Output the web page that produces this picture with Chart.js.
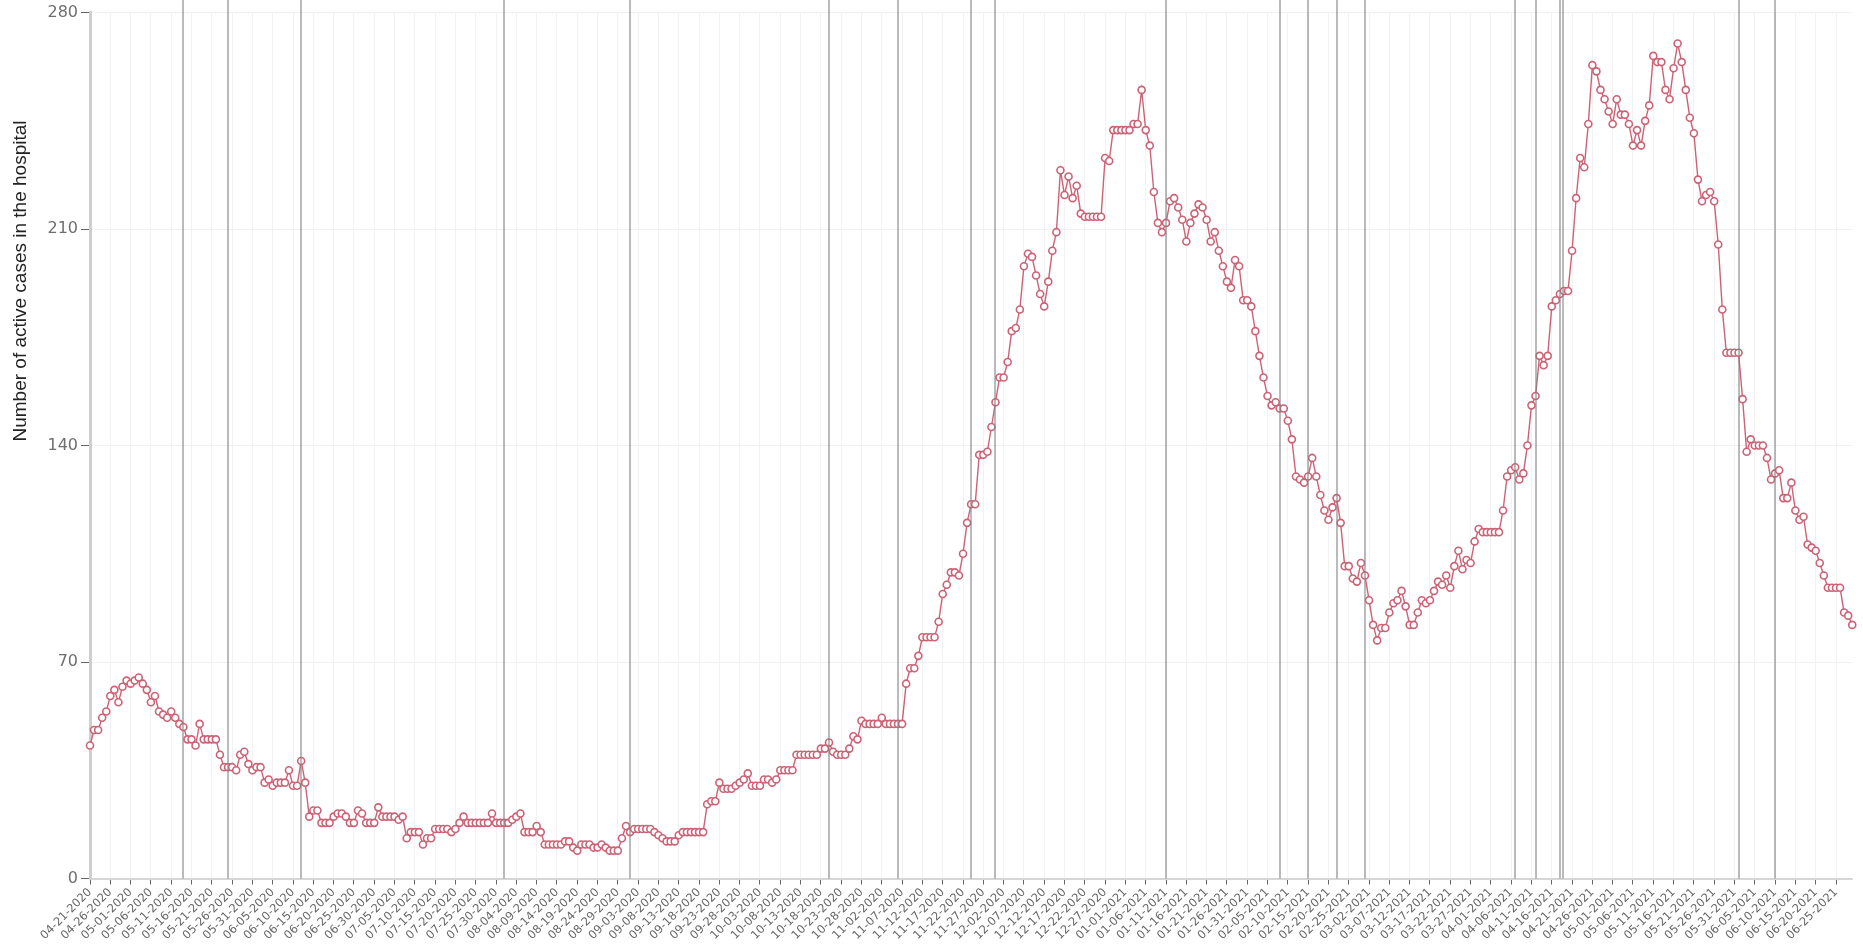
<!DOCTYPE html>
<html>
<head>
<meta charset="utf-8">
<title>Active cases in the hospital</title>
<script src="https://cdn.jsdelivr.net/npm/chart.js@4.4.1/dist/chart.umd.min.js"></script>
<style>
	html, body { margin: 0; padding: 0; background: #fff; }
	#chart { display: block; }
</style>
</head>
<body>
<canvas id="chart" width="1863" height="947"></canvas>
<script>
( function() { 'use strict';

	// first day of the series, one value per day after it
	let startDay = [ 2020, 4, 21 ];

	// active cases in the hospital
	let cases = [
		43, 48, 48, 52, 54, 59, 61, 57, 62, 64, 63, 64, 65, 63, 61, 57, 59, 54, 53, 52,
		54, 52, 50, 49, 45, 45, 43, 50, 45, 45, 45, 45, 40, 36, 36, 36, 35, 40, 41, 37,
		35, 36, 36, 31, 32, 30, 31, 31, 31, 35, 30, 30, 38, 31, 20, 22, 22, 18, 18, 18,
		20, 21, 21, 20, 18, 18, 22, 21, 18, 18, 18, 23, 20, 20, 20, 20, 19, 20, 13, 15,
		15, 15, 11, 13, 13, 16, 16, 16, 16, 15, 16, 18, 20, 18, 18, 18, 18, 18, 18, 21,
		18, 18, 18, 18, 19, 20, 21, 15, 15, 15, 17, 15, 11, 11, 11, 11, 11, 12, 12, 10,
		9, 11, 11, 11, 10, 10, 11, 10, 9, 9, 9, 13, 17, 15, 16, 16, 16, 16, 16, 15,
		14, 13, 12, 12, 12, 14, 15, 15, 15, 15, 15, 15, 24, 25, 25, 31, 29, 29, 29, 30,
		31, 32, 34, 30, 30, 30, 32, 32, 31, 32, 35, 35, 35, 35, 40, 40, 40, 40, 40, 40,
		42, 42, 44, 41, 40, 40, 40, 42, 46, 45, 51, 50, 50, 50, 50, 52, 50, 50, 50, 50,
		50, 63, 68, 68, 72, 78, 78, 78, 78, 83, 92, 95, 99, 99, 98, 105, 115, 121, 121, 137,
		137, 138, 146, 154, 162, 162, 167, 177, 178, 184, 198, 202, 201, 195, 189, 185, 193, 203, 209, 229,
		221, 227, 220, 224, 215, 214, 214, 214, 214, 214, 233, 232, 242, 242, 242, 242, 242, 244, 244, 255,
		242, 237, 222, 212, 209, 212, 219, 220, 217, 213, 206, 212, 215, 218, 217, 213, 206, 209, 203, 198,
		193, 191, 200, 198, 187, 187, 185, 177, 169, 162, 156, 153, 154, 152, 152, 148, 142, 130, 129, 128,
		130, 136, 130, 124, 119, 116, 120, 123, 115, 101, 101, 97, 96, 102, 98, 90, 82, 77, 81, 81,
		86, 89, 90, 93, 88, 82, 82, 86, 90, 89, 90, 93, 96, 95, 98, 94, 101, 106, 100, 103,
		102, 109, 113, 112, 112, 112, 112, 112, 119, 130, 132, 133, 129, 131, 140, 153, 156, 169, 166, 169,
		185, 187, 189, 190, 190, 203, 220, 233, 230, 244, 263, 261, 255, 252, 248, 244, 252, 247, 247, 244,
		237, 242, 237, 245, 250, 266, 264, 264, 255, 252, 262, 270, 264, 255, 246, 241, 226, 219, 221, 222,
		219, 205, 184, 170, 170, 170, 170, 155, 138, 142, 140, 140, 140, 136, 129, 131, 132, 123, 123, 128,
		119, 116, 117, 108, 107, 106, 102, 98, 94, 94, 94, 94, 86, 85, 82
	];

	// day numbers (from the first day) that carry a grey vertical marker
	let markerDays = [ 23, 34, 52, 102, 133, 182, 199, 217, 223, 265, 293, 300, 307, 314, 351, 356, 362, 362.7, 406, 415 ];

	// y axis
	let yTicks = [ 0, 70, 140, 210, 280 ];
	let yTitle = 'Number of active cases in the hospital';

	let labelEvery = 5;

	/**
	 * Build the MM-DD-YYYY label of every day
	 */
	function buildDates( count ) {
		let out = [];
		let d = new Date( startDay[0], startDay[1] - 1, startDay[2] );
		for ( let i = 0; i < count; i++ ) {
			let mm = String( d.getMonth() + 1 ).padStart( 2, '0' );
			let dd = String( d.getDate() ).padStart( 2, '0' );
			out.push( mm + '-' + dd + '-' + d.getFullYear() );
			d.setDate( d.getDate() + 1 );
		}
		return out;
	}

	let dates = buildDates( cases.length );

	/**
	 * Grey vertical markers, drawn over the line like in the original
	 */
	let markerPlugin = {
		id: 'markers',
		afterDatasetsDraw: function( chart ) {
			let ctx = chart.ctx;
			let x = chart.scales.x;
			let area = chart.chartArea;
			ctx.save();
			ctx.strokeStyle = 'rgba(130, 130, 130, 0.55)';
			ctx.lineWidth = 2;
			markerDays.forEach( function( day ) {
				let px = Math.round( x.getPixelForValue( day ) );
				ctx.beginPath();
				ctx.moveTo( px, 0 );
				ctx.lineTo( px, area.bottom );
				ctx.stroke();
			} );
			ctx.restore();
		}
	};

	/**
	 * Y axis title, sits high on the axis
	 */
	let titlePlugin = {
		id: 'yTitle',
		afterDraw: function( chart ) {
			let ctx = chart.ctx;
			ctx.save();
			ctx.translate( 21, 281 );
			ctx.rotate( -Math.PI / 2 );
			ctx.font = '19px "Liberation Sans", Arial, sans-serif';
			ctx.fillStyle = '#222';
			ctx.textAlign = 'center';
			ctx.textBaseline = 'middle';
			ctx.fillText( yTitle, 0, 0 );
			ctx.restore();
		}
	};

	new Chart( document.getElementById( 'chart' ), {
		type: 'line',
		data: {
			labels: dates,
			datasets: [ {
				data: cases,
				borderColor: 'rgb(204, 98, 117)',
				borderWidth: 1.4,
				pointRadius: 3.5,
				pointBorderWidth: 1.6,
				pointBackgroundColor: '#fff',
				pointBorderColor: 'rgb(204, 98, 117)',
				tension: 0
			} ]
		},
		options: {
			responsive: false,
			animation: false,
			layout: { padding: { top: 11, right: 7, left: 0, bottom: 0 } },
			plugins: {
				legend: { display: false },
				tooltip: { enabled: false }
			},
			scales: {
				x: {
					type: 'category',
					border: { display: true, color: '#d6d6d6', width: 2 },
					grid: {
						color: function( c ) { return c.index % labelEvery === 0 ? '#f2f2f2' : 'rgba(0,0,0,0)'; },
						tickColor: function( c ) { return c.index % labelEvery === 0 ? '#666' : 'rgba(0,0,0,0)'; },
						tickLength: 6
					},
					ticks: {
						autoSkip: false,
						minRotation: 45,
						maxRotation: 45,
						padding: 1,
						color: '#666',
						font: { family: '"DejaVu Sans", sans-serif', size: 11.5 },
						callback: function( value, index ) {
							return index % labelEvery === 0 ? this.getLabelForValue( value ) : '';
						}
					},
					afterFit: function( scale ) { scale.height = 68.5; }
				},
				y: {
					min: yTicks[0],
					max: yTicks[ yTicks.length - 1 ],
					border: { display: true, color: '#cfcfcf', width: 3 },
					grid: { color: '#f0f0f0', tickColor: '#666', tickLength: 9 },
					ticks: {
						stepSize: yTicks[1] - yTicks[0],
						padding: 3,
						color: '#6f6f6f',
						font: { family: '"DejaVu Sans", sans-serif', size: 16 }
					},
					afterFit: function( scale ) { scale.width = 90; }
				}
			}
		},
		plugins: [ markerPlugin, titlePlugin ]
	} );

})();
</script>
</body>
</html>
